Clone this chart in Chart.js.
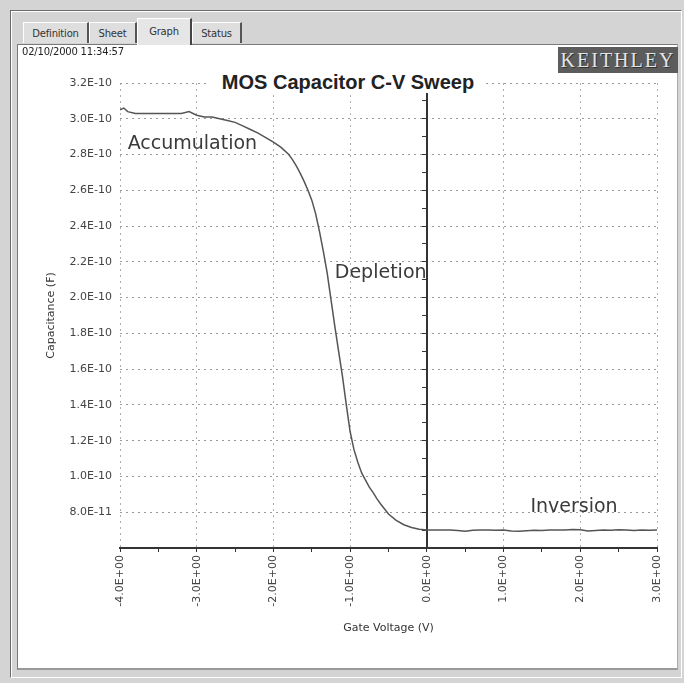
<!DOCTYPE html>
<html>
<head>
<meta charset="utf-8">
<script src="https://cdn.jsdelivr.net/npm/chart.js@4.4.1/dist/chart.umd.min.js"></script>
<style>
  body { margin: 0; width: 684px; height: 683px; background: #d4d4d4; position: relative; overflow: hidden; font-family: "DejaVu Sans", sans-serif; }
  .frame { position: absolute; left: 10px; top: 10px; width: 670px; height: 666px; border: 1px solid #6a6a6a; border-right-color: #fff; border-bottom-color: #fff; box-shadow: inset 1px 1px 0 #fff; }
  .tab { position: absolute; top: 22px; height: 21px; background: #dedede; border-left: 1px solid #fff; border-top: 1px solid #fff; border-right: 2px solid #555; font-size: 10px; line-height: 21px; text-align: center; color: #333; box-sizing: border-box; letter-spacing: -0.2px; }
  .tab.sel { top: 18px; height: 27px; background: #e6e6e6; line-height: 26px; z-index: 2; border-right: 2px solid #444; }
  .panel { position: absolute; left: 17px; top: 44px; width: 661px; height: 626px; background: #fff; border-left: 1px solid #7a7a7a; border-top: 1px solid #7a7a7a; border-right: 1px solid #aaa; border-bottom: 2px solid #999; box-sizing: border-box; }
  #stamp { position: absolute; left: 22px; top: 46px; font-size: 10px; color: #222; letter-spacing: -0.2px; }
  #logo { position: absolute; left: 558px; top: 47px; width: 120px; height: 26px; background: #5c5c5c; color: #e4e4e4; font-family: "Liberation Serif", serif; font-size: 20px; line-height: 27px; text-align: center; letter-spacing: 2px; text-shadow: 1px 1px 0 #333; }
  #title { position: absolute; left: 210px; top: 71px; width: 276px; height: 22px; background: #fff; text-align: center; font-family: "Liberation Sans", Arial, sans-serif; font-size: 20px; font-weight: bold; color: #222; line-height: 22px; z-index: 3; }
  canvas { position: absolute; left: 18px; top: 45px; }
</style>
</head>
<body>
<div class="frame"></div>
<div class="tab" style="left:23px;width:66px;">Definition</div>
<div class="tab" style="left:89px;width:48px;">Sheet</div>
<div class="tab sel" style="left:137px;width:55px;">Graph</div>
<div class="tab" style="left:192px;width:50px;">Status</div>
<div class="panel"></div>
<canvas id="cv" width="659" height="624"></canvas>
<div id="stamp">02/10/2000 11:34:57</div>
<div id="logo">KEITHLEY</div>
<div id="title">MOS Capacitor C-V Sweep</div>
<script>
// gate voltage sweep (V)
const gateVoltage = [
  -4.0, -3.95, -3.9, -3.8, -3.7, -3.6, -3.5, -3.4, -3.3, -3.2, -3.1, -3.0,
  -2.9, -2.8, -2.7, -2.6, -2.5, -2.4, -2.3, -2.2, -2.1, -2.0, -1.9, -1.8,
  -1.75, -1.7, -1.65, -1.6, -1.55, -1.5, -1.45, -1.4, -1.35, -1.3, -1.25, -1.2,
  -1.15, -1.1, -1.05, -1.0, -0.95, -0.9, -0.85, -0.8, -0.75, -0.7, -0.65, -0.6,
  -0.5, -0.4, -0.3, -0.2, -0.1, 0.0, 0.1, 0.2, 0.3, 0.4, 0.5, 0.6, 0.7, 0.8,
  0.9, 1.0, 1.1, 1.2, 1.3, 1.4, 1.5, 1.6, 1.7, 1.8, 1.9, 2.0, 2.1, 2.2, 2.3,
  2.4, 2.5, 2.6, 2.7, 2.8, 2.9, 3.0
];
// measured capacitance (F)
const capacitance = [
  3.05e-10, 3.06e-10, 3.04e-10, 3.03e-10, 3.03e-10, 3.03e-10, 3.03e-10, 3.03e-10, 3.03e-10, 3.03e-10, 3.04e-10, 3.02e-10,
  3.01e-10, 3.01e-10, 3.00e-10, 2.99e-10, 2.98e-10, 2.96e-10, 2.94e-10, 2.92e-10, 2.895e-10, 2.87e-10, 2.84e-10, 2.80e-10,
  2.77e-10, 2.735e-10, 2.695e-10, 2.65e-10, 2.60e-10, 2.545e-10, 2.47e-10, 2.37e-10, 2.26e-10, 2.14e-10, 1.99e-10, 1.84e-10,
  1.70e-10, 1.56e-10, 1.40e-10, 1.25e-10, 1.15e-10, 1.08e-10, 1.02e-10, 0.98e-10, 0.94e-10, 0.91e-10, 0.875e-10, 0.845e-10,
  0.79e-10, 0.755e-10, 0.73e-10, 0.715e-10, 0.705e-10, 0.700e-10, 0.700e-10, 0.701e-10, 0.700e-10, 0.698e-10, 0.694e-10, 0.699e-10, 0.700e-10, 0.700e-10,
  0.699e-10, 0.700e-10, 0.695e-10, 0.693e-10, 0.697e-10, 0.699e-10, 0.698e-10, 0.700e-10, 0.701e-10, 0.700e-10, 0.703e-10, 0.702e-10, 0.695e-10, 0.698e-10, 0.700e-10,
  0.699e-10, 0.702e-10, 0.700e-10, 0.698e-10, 0.700e-10, 0.699e-10, 0.701e-10
];

const xTickLabels = ['-4.0E+00', '-3.0E+00', '-2.0E+00', '-1.0E+00', '0.0E+00', '1.0E+00', '2.0E+00', '3.0E+00'];
const yTickLabels = ['', '8.0E-11', '1.0E-10', '1.2E-10', '1.4E-10', '1.6E-10', '1.8E-10', '2.0E-10', '2.2E-10', '2.4E-10', '2.6E-10', '2.8E-10', '3.0E-10', '3.2E-10'];

// region labels, anchored in data units
const regionNames = ['Accumulation', 'Depletion', 'Inversion'];
const regionX = [-3.9, -1.2, 1.35];
const regionY = [2.86e-10, 2.14e-10, 0.83e-10];

const points = gateVoltage.map((v, i) => ({ x: v, y: capacitance[i] }));

const tickFont = { family: '"DejaVu Sans", sans-serif', size: 11 };

const regionLabels = {
  id: 'regionLabels',
  afterDatasetsDraw(chart) {
    const { ctx, scales } = chart;
    ctx.save();
    ctx.font = '19px "DejaVu Sans", sans-serif';
    ctx.fillStyle = '#3a3a3a';
    ctx.textBaseline = 'middle';
    ctx.textAlign = 'left';
    regionNames.forEach((name, i) => {
      ctx.fillText(name, scales.x.getPixelForValue(regionX[i]), scales.y.getPixelForValue(regionY[i]));
    });
    ctx.restore();
  }
};

new Chart(document.getElementById('cv').getContext('2d'), {
  type: 'line',
  data: {
    datasets: [{
      data: points,
      borderColor: '#555',
      borderWidth: 1.5,
      pointRadius: 0,
      tension: 0
    }]
  },
  options: {
    responsive: false,
    animation: false,
    devicePixelRatio: 1,
    layout: { padding: { top: 38, right: 20, left: 0, bottom: 0 } },
    plugins: { legend: { display: false }, tooltip: { enabled: false } },
    scales: {
      x: {
        type: 'linear',
        min: -4, max: 3,
        afterFit(s) { s.height = 121; },
        border: { display: true, color: '#333', width: 2, dash: [2, 4] },
        grid: {
          color: c => (c.tick && Number.isInteger(c.tick.value)) ? '#b0b0b0' : 'transparent',
          tickColor: '#333',
          tickLength: 4,
          drawTicks: true
        },
        ticks: {
          stepSize: 0.5,
          autoSkip: false,
          minRotation: 90,
          maxRotation: 90,
          padding: 3,
          color: '#444',
          font: tickFont,
          callback: v => Number.isInteger(v) ? xTickLabels[v + 4] : ''
        },
        title: {
          display: true,
          text: 'Gate Voltage (V)',
          color: '#333',
          font: tickFont,
          padding: { top: 0, bottom: 34 }
        }
      },
      y: {
        type: 'linear',
        min: 6e-11, max: 3.2e-10,
        afterFit(s) { s.width = 102; },
        border: { display: false, dash: [2, 4] },
        grid: { color: '#999', drawTicks: false },
        ticks: {
          stepSize: 2e-11,
          padding: 8,
          color: '#444',
          font: tickFont,
          callback: v => yTickLabels[Math.round((v - 6e-11) / 2e-11)] || ''
        },
        title: {
          display: true,
          text: 'Capacitance (F)',
          color: '#333',
          font: tickFont,
          padding: { top: 27, bottom: 0 }
        }
      },
      zeroAxis: {
        type: 'linear',
        axis: 'y',
        position: { x: 0 },
        min: 6e-11, max: 3.2e-10,
        border: { display: true, color: '#333', width: 2 },
        grid: { drawOnChartArea: false, drawTicks: true, tickLength: 4, tickColor: '#333' },
        ticks: { display: false, stepSize: 1e-11 }
      }
    }
  },
  plugins: [regionLabels]
});
</script>
</body>
</html>
